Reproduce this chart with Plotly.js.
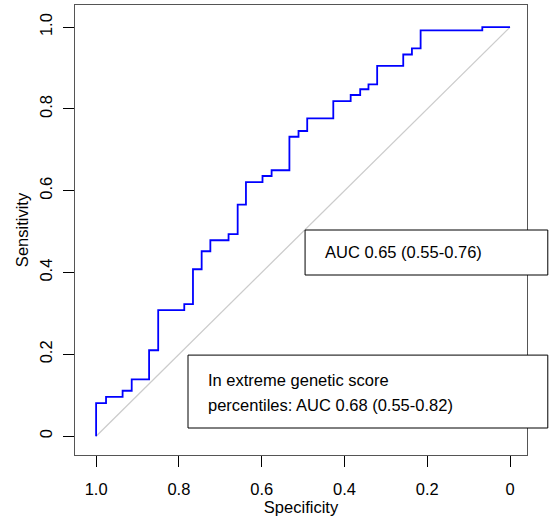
<!DOCTYPE html>
<html>
<head>
<meta charset="utf-8">
<script src="https://cdn.plot.ly/plotly-3.0.1.min.js"></script>
<style>html,body{margin:0;padding:0;background:#fff;}</style>
</head>
<body>
<div id="chart" style="width:552px;height:531px;"></div>
<script>
// ROC curve corner points (specificity, sensitivity)
var specificity = [1.0, 0.976, 0.936, 0.914, 0.872, 0.850, 0.787, 0.766, 0.745, 0.724, 0.680, 0.658, 0.638, 0.598, 0.576, 0.533, 0.511, 0.490, 0.427, 0.385, 0.362, 0.342, 0.321, 0.258, 0.237, 0.216, 0.067, 0.0];
var sensitivity = [0, 0.081, 0.096, 0.111, 0.139, 0.210, 0.308, 0.323, 0.408, 0.452, 0.479, 0.494, 0.566, 0.621, 0.636, 0.650, 0.732, 0.746, 0.777, 0.819, 0.834, 0.848, 0.860, 0.905, 0.933, 0.948, 0.992, 1.0];
var tickVals = [0, 0.2, 0.4, 0.6, 0.8, 1.0];
var xTickText = ['0', '0.2', '0.4', '0.6', '0.8', '1.0'];
var yTickText = ['0', '0.2', '0.4', '0.6', '0.8', '1.0'];
var aucText = 'AUC 0.65 (0.55-0.76)';
var extremeText = ['In extreme genetic score', 'percentiles: AUC 0.68 (0.55-0.82)'];

var font = {family: 'Liberation Sans, Arial, sans-serif', size: 16.5, color: '#000'};

var traces = [
    {x: [1, 0], y: [0, 1], mode: 'lines', line: {color: '#cccccc', width: 1.3}, hoverinfo: 'skip'},
    {x: specificity, y: sensitivity, mode: 'lines', line: {color: '#0000ff', width: 1.8, shape: 'vh'}}
];

var layout = {
    width: 552, height: 531,
    margin: {l: 75, r: 25, t: 5, b: 76},
    showlegend: false,
    paper_bgcolor: '#fff', plot_bgcolor: '#fff',
    font: font,
    xaxis: {
        range: [1.051, -0.041], tickvals: tickVals, ticktext: xTickText,
        ticks: 'outside', ticklen: 11, tickcolor: '#000', showgrid: false, zeroline: false,
        ticklabelstandoff: 8,
        showline: true, mirror: true, linecolor: '#555', linewidth: 1,
        title: {text: 'Specificity', font: font, standoff: 2}
    },
    yaxis: {
        range: [-0.046, 1.054], tickvals: tickVals, ticktext: yTickText, tickangle: -90,
        ticks: 'outside', ticklen: 11, tickcolor: '#000', showgrid: false, zeroline: false,
        ticklabelstandoff: 4,
        showline: true, mirror: true, linecolor: '#555', linewidth: 1,
        title: {text: 'Sensitivity', font: font, standoff: 4}
    },
    shapes: [
        {type: 'rect', xref: 'paper', yref: 'paper', x0: 0.509, x1: 1.046, y0: 0.4, y1: 0.5,
         line: {color: '#000', width: 1}, fillcolor: '#fff', layer: 'above'},
        {type: 'rect', xref: 'paper', yref: 'paper', x0: 0.25, x1: 1.046, y0: 0.06, y1: 0.222,
         line: {color: '#000', width: 1}, fillcolor: '#fff', layer: 'above'}
    ],
    annotations: [
        {xref: 'paper', yref: 'paper', x: 0.549, y: 0.451, xanchor: 'left', yanchor: 'middle',
         text: aucText, showarrow: false, font: font},
        {xref: 'paper', yref: 'paper', x: 0.29, y: 0.167, xanchor: 'left', yanchor: 'middle',
         text: extremeText[0], showarrow: false, font: font},
        {xref: 'paper', yref: 'paper', x: 0.29, y: 0.111, xanchor: 'left', yanchor: 'middle',
         text: extremeText[1], showarrow: false, font: font}
    ]
};

Plotly.newPlot('chart', traces, layout, {displayModeBar: false, staticPlot: true});
</script>
</body>
</html>
